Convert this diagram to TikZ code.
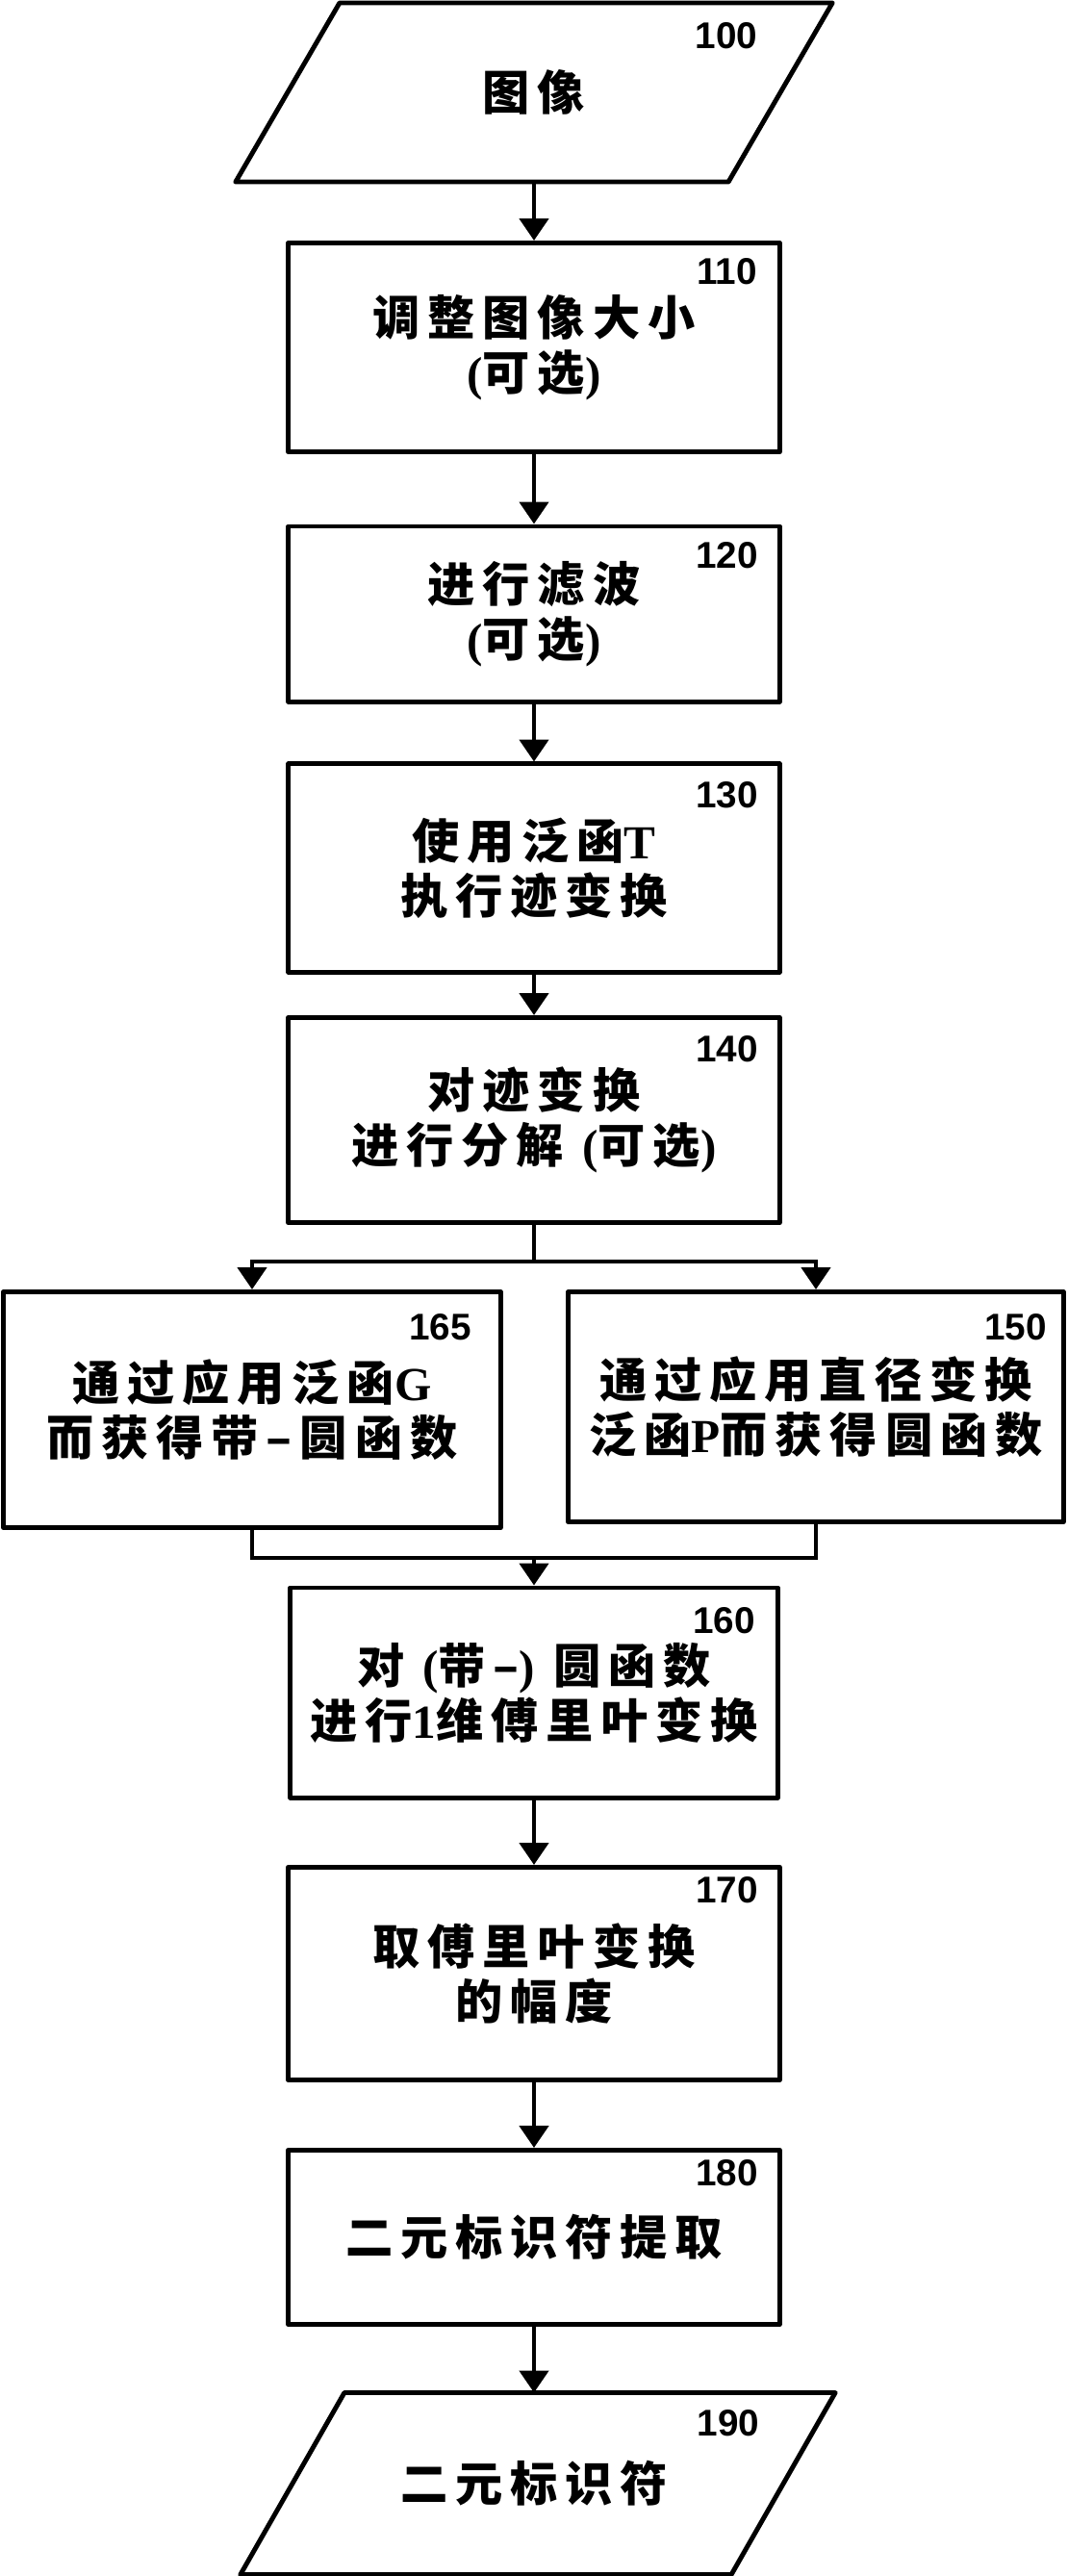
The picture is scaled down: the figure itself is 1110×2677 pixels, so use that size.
\documentclass[tikz,border=0pt]{standalone}
\usepackage{fontspec}
\setmainfont{Liberation Serif}
\setsansfont{Liberation Sans}
\newfontfamily\cjk[LetterSpace=16]{Noto Sans CJK SC}
\usepackage{tikz}
\usetikzlibrary{arrows.meta,positioning,calc}
\newcommand{\lat}[1]{{\rmfamily\bfseries #1}}

\begin{document}
\begin{tikzpicture}[x=0.01cm,y=-0.01cm]
\tikzstyle{fleche}=[-{Triangle[length=6.5pt,width=8.5pt]},line width=1.3pt]
\tikzstyle{trait}=[line width=1.3pt]
\tikzstyle{cadre}=[line width=1.4pt,line join=round]
\tikzstyle{etape}=[draw,cadre,minimum width=5.1cm,align=center,inner sep=0pt,
  font={\cjk\bfseries\fontsize{14pt}{16.2pt}\selectfont}]
\tikzstyle{entree}=[etape,draw=none,minimum width=5.07cm]
\tikzstyle{numero}=[inner sep=0pt,font={\sffamily\bfseries\fontsize{11pt}{12pt}\selectfont}]
\def\Centre{555}
\def\Gauche{262}
\def\Droite{848}
\useasboundingbox (0,0) rectangle (1110,2677);
% colonne centrale
\node[entree,minimum height=1.81cm] (E100) at (\Centre,96) {图像};
\node[etape,minimum height=2.17cm] (E110) at (\Centre,361) {调整图像大小\\\lat{(}可选\lat{)}};
\node[etape,minimum height=1.82cm] (E120) at (\Centre,638) {进行滤波\\\lat{(}可选\lat{)}};
\node[etape,minimum height=2.16cm] (E130) at (\Centre,902) {使用泛函\lat{T}\\执行迹变换};
\node[etape,minimum height=2.13cm] (E140) at (\Centre,1164) {对迹变换\\进行分解 \lat{(}可选\lat{)}};
% deux branches
\node[etape,minimum width=5.16cm,minimum height=2.45cm] (E165) at (\Gauche,1465) {通过应用泛函\lat{G}\\而获得带–圆函数};
\node[etape,minimum width=5.14cm,minimum height=2.39cm] (E150) at (\Droite,1462) {通过应用直径变换\\泛函\lat{P}而获得圆函数};
\node[etape,minimum width=5.06cm,minimum height=2.18cm] (E160) at (\Centre,1759) {对 \lat{(}带–\lat{)} 圆函数\\进行\lat{1}维傅里叶变换};
\node[etape,minimum height=2.21cm] (E170) at (\Centre,2051) {取傅里叶变换\\的幅度};
\node[etape,minimum height=1.81cm] (E180) at (\Centre,2325) {二元标识符提取};
\node[entree,minimum width=5.05cm,minimum height=1.84cm] (E190) at (\Centre,2581) {二元标识符};
% parallelogrammes
\draw[cadre] ([xshift=-0.54cm]E100.south west) -- ([xshift=0.54cm]E100.north west)
  -- ([xshift=0.54cm]E100.north east) -- ([xshift=-0.54cm]E100.south east) -- cycle;
\draw[cadre] ([xshift=-0.5cm]E190.south west) -- ([xshift=0.58cm]E190.north west)
  -- ([xshift=0.58cm]E190.north east) -- ([xshift=-0.5cm]E190.south east) -- cycle;
% numeros
\node[numero,below left=0.2cm and 0.23cm of E100.north east] (N100) {100};
\node[numero,below left=0.18cm and 0.25cm of E110.north east] (N110) {110};
\node[numero,below left=0.18cm and 0.24cm of E120.north east] (N120) {120};
\node[numero,below left=0.2cm and 0.24cm of E130.north east] (N130) {130};
\node[numero,below left=0.21cm and 0.24cm of E140.north east] (N140) {140};
\node[numero,below left=0.25cm and 0.32cm of E165.north east] (N165) {165};
\node[numero,below left=0.25cm and 0.19cm of E150.north east] (N150) {150};
\node[numero,below left=0.22cm and 0.25cm of E160.north east] (N160) {160};
\node[numero,below left=0.12cm and 0.24cm of E170.north east] (N170) {170};
\node[numero,below left=0.12cm and 0.24cm of E180.north east] (N180) {180};
\node[numero,below left=0.17cm and 0.2cm of E190.north east] (N190) {190};
% fleches
\coordinate (Sep) at (\Centre,1311);
\coordinate (Jon) at (\Centre,1619);
\draw[fleche] (E100.south) -- (E110.north);
\draw[fleche] (E110)--(E120);
\draw[fleche] (E120)--(E130);
\draw[fleche] (E130)--(E140);
\draw[trait] (E140.south)--(Sep);
\draw[fleche] (Sep) -| (E165.north);
\draw[fleche] (Sep) -| (E150.north);
\draw[trait] (E165.south) |- (Jon);
\draw[trait] (E150.south) |- (Jon);
\draw[fleche] (Jon)--(E160.north);
\draw[fleche] (E160)--(E170);
\draw[fleche] (E170)--(E180);
\draw[fleche] (E180.south)--(E190.north);
\end{tikzpicture}
\end{document}
